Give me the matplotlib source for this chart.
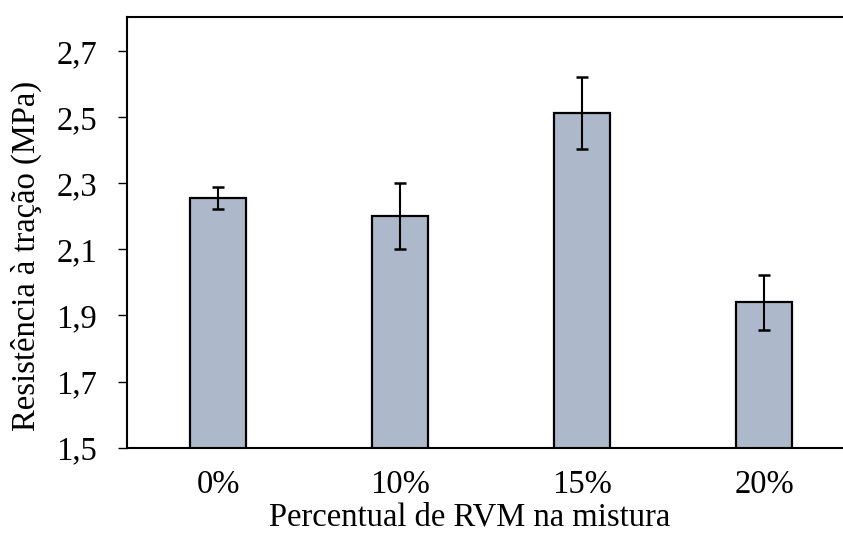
import matplotlib
matplotlib.use("Agg")
import matplotlib.pyplot as plt

categories = ["0%", "10%", "15%", "20%"]
values = [2.255, 2.200, 2.513, 1.940]
errors = [0.034, 0.100, 0.109, 0.083]
yticks = [1.5, 1.7, 1.9, 2.1, 2.3, 2.5, 2.7]
ytick_labels = ["1,5", "1,7", "1,9", "2,1", "2,3", "2,5", "2,7"]

plt.rcParams["font.family"] = ["Liberation Serif", "DejaVu Serif"]

fig = plt.figure(figsize=(8.43, 5.39), dpi=100)
ax = fig.add_axes([127 / 843, 91.3 / 539, 728 / 843, 430.7 / 539])

x = list(range(len(categories)))
ax.bar(x, values, width=0.313, color="#adb9ca", edgecolor="black", linewidth=1.6,
       zorder=2)
ax.errorbar(x, values, yerr=errors, fmt="none", ecolor="black", elinewidth=1.5,
            capsize=4.5, capthick=1.8, zorder=3)

ax.set_xlim(-0.5, 3.5)
ax.set_ylim(1.5, 2.803)
ax.set_yticks(yticks)
ax.set_yticklabels(ytick_labels)
ax.set_xticks(x)
ax.set_xticklabels(categories)

ax.tick_params(axis="y", direction="out", length=6.5, width=1.0, pad=15,
               labelsize=23.5)
ax.tick_params(axis="x", length=0, pad=16, labelsize=23.5)

for side in ["left", "bottom", "top"]:
    ax.spines[side].set_linewidth(1.5)
    ax.spines[side].set_color("black")
ax.spines["right"].set_visible(False)

ax.set_ylabel("Resistência à tração (MPa)", fontsize=23.5)
ax.yaxis.set_label_coords(-0.1165, 0.445)
ax.set_xlabel("Percentual de RVM na mistura", fontsize=23.5)
ax.xaxis.set_label_coords((470 - 127) / 728, -0.125)

fig.savefig("out.png", dpi=100)
